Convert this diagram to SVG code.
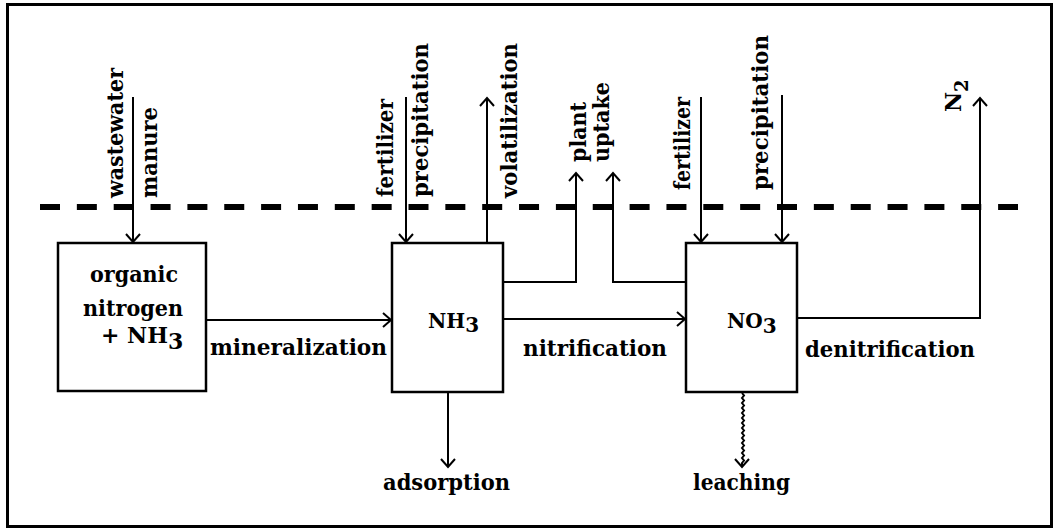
<svg xmlns="http://www.w3.org/2000/svg" width="1056" height="529" viewBox="0 0 1056 529">
  <defs>
    <marker id="arr" markerUnits="userSpaceOnUse" markerWidth="20" markerHeight="20" refX="0" refY="0" viewBox="-10 -10 20 20" orient="auto" overflow="visible">
      <path d="M-8,-7 L0,0 L-8,7" fill="none" stroke="#000" stroke-width="2"/>
    </marker>
    <style>
      .t { font-family: "DejaVu Serif", "Liberation Serif", serif; font-weight: bold; font-size: 22px; fill: #000; }
      .s { font-size: 20px; }
      .box { fill: #fff; stroke: #000; stroke-width: 2.5; }
      .ln { fill: none; stroke: #000; stroke-width: 2; }
      .a { marker-end: url(#arr); }
    </style>
  </defs>
  <rect x="0" y="0" width="1056" height="529" fill="#fff"/>
  <rect id="frame" x="7.5" y="4.5" width="1044" height="522" fill="none" stroke="#000" stroke-width="3"/>
  <line id="surface" x1="40" y1="207" x2="1018" y2="207" stroke="#000" stroke-width="6" stroke-dasharray="20 16.85"/>

  <g id="connectors">
    <path class="ln a" d="M133,97 V242"/>
    <path class="ln a" d="M406,97 V242"/>
    <path class="ln a" d="M487,243 V98"/>
    <path class="ln a" d="M503,282 H576 V173"/>
    <path class="ln a" d="M686,282 H613 V173"/>
    <path class="ln a" d="M701,97 V242"/>
    <path class="ln a" d="M782,95 V242"/>
    <path class="ln a" d="M206,320 H391"/>
    <path class="ln a" d="M503,319 H685"/>
    <path class="ln a" d="M797,318 H980 V98"/>
    <path class="ln a" d="M448,392 V467"/>
    <path class="ln a" d="M742,393 l2,2.5 l-2,2.5 l2,2.5 l-2,2.5 l2,2.5 l-2,2.5 l2,2.5 l-2,2.5 l2,2.5 l-2,2.5 l2,2.5 l-2,2.5 l2,2.5 l-2,2.5 l2,2.5 l-2,2.5 l2,2.5 l-2,2.5 l2,2.5 l-2,2.5 l2,2.5 l-2,2.5 l2,2.5 l-2,2.5 l2,2.5 l-2,2.5 l2,2.5 l-2,2.5 L742,467"/>
  </g>

  <g id="node-organic">
    <rect class="box" x="58" y="243" width="148" height="148"/>
    <text class="t" x="134" y="282" text-anchor="middle" textLength="88" lengthAdjust="spacingAndGlyphs">organic</text>
    <text class="t" x="133" y="316" text-anchor="middle" textLength="100" lengthAdjust="spacingAndGlyphs">nitrogen</text>
    <text class="t" x="101" y="343">+ NH<tspan dy="6">3</tspan></text>
  </g>

  <g id="node-nh3">
    <rect class="box" x="392" y="243" width="111" height="149"/>
    <text class="t s" x="428" y="328">NH<tspan dy="4">3</tspan></text>
  </g>

  <g id="node-no3">
    <rect class="box" x="686" y="243" width="111" height="149"/>
    <text class="t s" x="727" y="328">NO<tspan dy="5">3</tspan></text>
  </g>

  <g id="labels">
    <text class="t" transform="translate(123,198) rotate(-90)" textLength="130" lengthAdjust="spacingAndGlyphs">wastewater</text>
    <text class="t" transform="translate(157,198) rotate(-90)" textLength="91" lengthAdjust="spacingAndGlyphs">manure</text>
    <text class="t" transform="translate(393,197) rotate(-90)" textLength="98" lengthAdjust="spacingAndGlyphs">fertilizer</text>
    <text class="t" transform="translate(428,197) rotate(-90)" textLength="154" lengthAdjust="spacingAndGlyphs">precipitation</text>
    <text class="t" transform="translate(517,198) rotate(-90)" textLength="155" lengthAdjust="spacingAndGlyphs">volatilization</text>
    <text class="t" transform="translate(586,162) rotate(-90)" textLength="60" lengthAdjust="spacingAndGlyphs">plant</text>
    <text class="t" transform="translate(609,162) rotate(-90)" textLength="80" lengthAdjust="spacingAndGlyphs">uptake</text>
    <text class="t" transform="translate(690,190) rotate(-90)" textLength="93" lengthAdjust="spacingAndGlyphs">fertilizer</text>
    <text class="t" transform="translate(768,190) rotate(-90)" textLength="155" lengthAdjust="spacingAndGlyphs">precipitation</text>
    <text class="t" transform="translate(961,112) rotate(-90)">N<tspan dy="7" font-size="18">2</tspan></text>
    <text class="t" x="210" y="355" textLength="177" lengthAdjust="spacingAndGlyphs">mineralization</text>
    <text class="t" x="523" y="356" textLength="144" lengthAdjust="spacingAndGlyphs">nitrification</text>
    <text class="t" x="805" y="357" textLength="170" lengthAdjust="spacingAndGlyphs">denitrification</text>
    <text class="t" x="383" y="490" textLength="127" lengthAdjust="spacingAndGlyphs">adsorption</text>
    <text class="t" x="693" y="490" textLength="97" lengthAdjust="spacingAndGlyphs">leaching</text>
  </g>
</svg>
